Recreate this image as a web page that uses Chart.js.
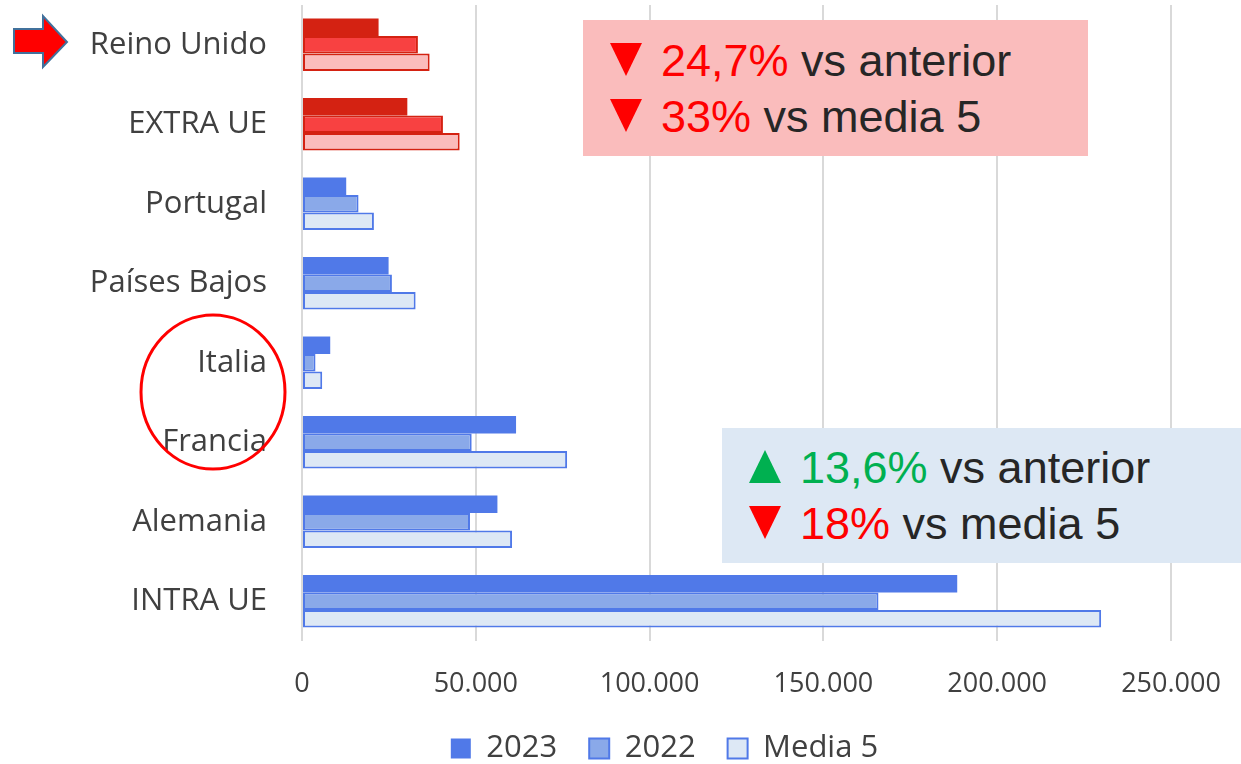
<!DOCTYPE html>
<html>
<head>
<meta charset="utf-8">
<script src="https://cdn.jsdelivr.net/npm/chart.js@4/dist/chart.umd.min.js"></script>
<style>
  body { margin: 0; background: #fff; overflow: hidden; }
  #wrap { position: relative; width: 1241px; height: 764px; }
  .caja { position: absolute; box-sizing: border-box; white-space: nowrap;
          font-family: "Liberation Sans", Arial, sans-serif; font-size: 45px; line-height: 56px; color: #262626; }
  .tri { display: inline-block; width: 0; height: 0; margin-right: 19px;
         border-left: 16.5px solid transparent; border-right: 16.5px solid transparent; }
  .abajo { border-top: 33px solid #ff0000; }
  .arriba { border-bottom: 33px solid #00b050; }
  .rojo { color: #ff0000; }
  .verde { color: #00b050; }
</style>
</head>
<body>
<div id="wrap">
  <canvas id="grafico" width="1241" height="764"></canvas>
  <div class="caja" style="left:583px;top:20px;width:505px;height:136px;background:#fabcbc;padding:13px 0 0 27px;">
    <div><span class="tri abajo"></span><span class="rojo">24,7%</span> vs anterior</div>
    <div><span class="tri abajo"></span><span class="rojo">33%</span> vs media 5</div>
  </div>
  <div class="caja" style="left:722px;top:428px;width:519px;height:135px;background:#dde8f4;padding:12px 0 0 27px;">
    <div><span class="tri arriba"></span><span class="verde">13,6%</span> vs anterior</div>
    <div><span class="tri abajo"></span><span class="rojo">18%</span> vs media 5</div>
  </div>
</div>
<script>
// datos
var categorias = ['Reino Unido', 'EXTRA UE', 'Portugal', 'Países Bajos', 'Italia', 'Francia', 'Alemania', 'INTRA UE'];
var valores2023 = [22030, 30300, 12720, 24910, 8120, 61580, 56220, 188500];
var valores2022 = [33350, 40550, 16270, 25870, 3890, 48820, 48330, 165850];
var valoresMedia5 = [36720, 45360, 20690, 32690, 5820, 76270, 60430, 229900];
var series = ['2023', '2022', 'Media 5'];
var ticksX = [0, 50000, 100000, 150000, 200000, 250000];

// las dos primeras categorias van en rojo
var colores = {
  azul: ['#5079e8', '#8aa9e9', '#dde8f5'],
  rojo: ['#d42212', '#f84141', '#fbbcbc'],
  bordeAzul: '#5079e8',
  bordeRojo: '#d42212'
};

function colorBarra(serie) {
  return function (ctx) {
    return ctx.dataIndex < 2 ? colores.rojo[serie] : colores.azul[serie];
  };
}
function colorBorde(ctx) {
  return ctx.dataIndex < 2 ? colores.bordeRojo : colores.bordeAzul;
}

// flecha y circulo encima del grafico, y leyenda un poco a la derecha
var marcas = {
  id: 'marcas',
  afterLayout: function (chart) {
    chart.legend.left += 79;
    chart.legend.right += 79;
  },
  afterDraw: function (chart) {
    var c = chart.ctx;
    c.save();
    // flecha
    c.beginPath();
    c.moveTo(14, 29);
    c.lineTo(43, 29);
    c.lineTo(43, 16);
    c.lineTo(67, 42);
    c.lineTo(43, 67);
    c.lineTo(43, 53);
    c.lineTo(14, 53);
    c.closePath();
    c.fillStyle = '#ff0000';
    c.fill();
    c.lineWidth = 2;
    c.strokeStyle = '#41719c';
    c.stroke();
    // circulo
    c.beginPath();
    c.ellipse(213, 392, 72, 77, 0, 0, Math.PI * 2);
    c.lineWidth = 3;
    c.strokeStyle = '#ff0000';
    c.stroke();
    c.restore();
  }
};

var datasets = [valores2023, valores2022, valoresMedia5].map(function (v, i) {
  return {
    label: series[i],
    data: v,
    backgroundColor: colorBarra(i),
    borderColor: colorBorde,
    borderWidth: i == 0 ? 0 : 2,
    borderSkipped: false
  };
});

new Chart(document.getElementById('grafico'), {
  type: 'bar',
  data: { labels: categorias, datasets: datasets },
  plugins: [marcas],
  options: {
    indexAxis: 'y',
    responsive: false,
    animation: false,
    layout: { padding: { top: 5, right: 70, left: 0, bottom: -10 } },
    datasets: { bar: { categoryPercentage: 0.66, barPercentage: 1 } },
    scales: {
      x: {
        min: 0, max: 250000,
        afterBuildTicks: function (s) { s.ticks = ticksX.map(function (t) { return { value: t }; }); },
        afterFit: function (s) { s.height = 60; s.paddingLeft = 0; s.paddingRight = 0; },
        grid: { color: '#d9d9d9', lineWidth: 2, drawTicks: false },
        border: { display: false },
        ticks: {
          padding: 27,
          color: '#404040',
          font: { family: 'Open Sans', size: 27 },
          callback: function (v) { return v.toLocaleString('de-DE'); }
        }
      },
      y: {
        afterFit: function (s) { s.width = 302; s.paddingTop = 0; s.paddingBottom = 0; },
        grid: { display: false, drawTicks: false },
        border: { display: false },
        ticks: { padding: 35, color: '#404040', font: { family: 'Open Sans', size: 31 } }
      }
    },
    plugins: {
      tooltip: { enabled: false },
      legend: {
        position: 'bottom',
        labels: {
          boxWidth: 20, boxHeight: 20, padding: 32,
          color: '#404040',
          font: { family: 'Open Sans', size: 31 },
          generateLabels: function (chart) {
            var items = Chart.defaults.plugins.legend.labels.generateLabels(chart);
            items.forEach(function (it, i) {
              it.fillStyle = colores.azul[i];
              it.strokeStyle = colores.bordeAzul;
              it.lineWidth = i == 0 ? 0 : 2;
            });
            return items;
          }
        }
      }
    }
  }
});
</script>
</body>
</html>
